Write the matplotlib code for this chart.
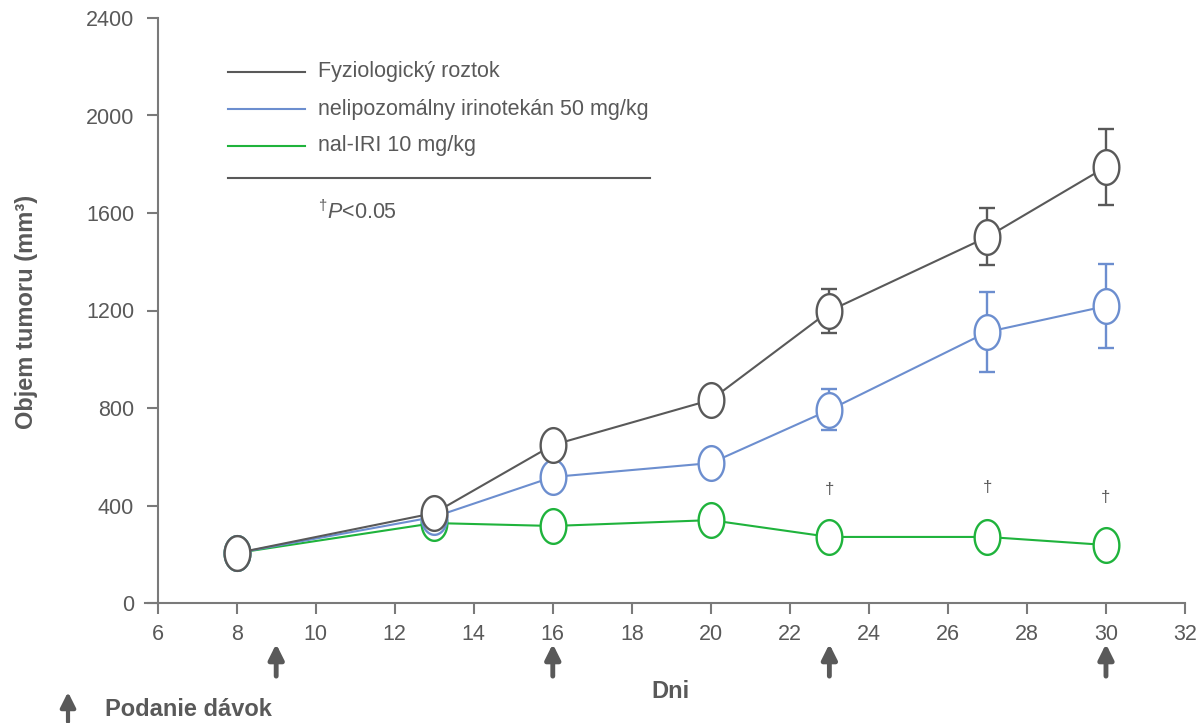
import matplotlib
matplotlib.use("Agg")
import matplotlib.pyplot as plt
import numpy as np
from matplotlib.path import Path
from matplotlib.lines import Line2D
from matplotlib.patches import FancyArrowPatch

plt.rcParams['font.family'] = ['Liberation Sans', 'DejaVu Sans']
plt.rcParams['mathtext.fontset'] = 'custom'
plt.rcParams['mathtext.rm'] = 'Liberation Sans'
plt.rcParams['mathtext.it'] = 'Liberation Sans:italic'
plt.rcParams['mathtext.bf'] = 'Liberation Sans:bold'

days = [8, 13, 16, 20, 23, 27, 30]
saline = [205, 369, 648, 833, 1198, 1502, 1789]
saline_err = [0, 0, 0, 0, 90, 117, 156]
nonlipo = [205, 353, 517, 574, 792, 1112, 1218]
nonlipo_err = [0, 0, 0, 0, 84, 164, 172]
nalIRI = [205, 328, 316, 340, 271, 271, 238]
nalIRI_err = [0, 0, 0, 0, 0, 0, 0]
dose_days = [9, 16, 23, 30]
sig_days = [23, 27, 30]
sig_y = [464, 472, 431]

labels = ['Fyziologický roztok', 'nelipozomálny irinotekán 50 mg/kg', 'nal-IRI 10 mg/kg']
GRAY = '#595959'
BLUE = '#6C8ECF'
GREEN = '#1FB33C'
AXC = '#7a7a7a'
TXT = '#595959'

W, H = 1202, 723
fig = plt.figure(figsize=(W / 100, H / 100), dpi=100)

def fx(px):
    return px / W

def fy(py):
    return 1 - py / H

ax = fig.add_axes([fx(145), fy(603), fx(1185) - fx(145), fy(18) - fy(603)])
ax.set_xlim(5.68, 32)
ax.set_ylim(0, 2400)

# elliptical marker
t = np.linspace(0, 2 * np.pi, 60)
verts = np.column_stack([0.74 * np.cos(t), np.sin(t)])
ell = Path(verts, closed=True)

series = [(nalIRI, nalIRI_err, GREEN), (nonlipo, nonlipo_err, BLUE), (saline, saline_err, GRAY)]
for z, (vals, err, col) in enumerate(series):
    ax.errorbar(days, vals, yerr=err, color=col, lw=1.5, elinewidth=1.7, capsize=6,
                capthick=1.7, marker=ell, markersize=25, markerfacecolor='white',
                markeredgecolor=col, markeredgewidth=1.7, zorder=3 + z, clip_on=False)

for d, y in zip(sig_days, sig_y):
    ax.text(d, y, '†', ha='center', va='center', fontsize=12, color=TXT)

# spines
for s in ['top', 'right']:
    ax.spines[s].set_visible(False)
ax.spines['left'].set_position(('data', 6))
for s in ['left', 'bottom']:
    ax.spines[s].set_color(AXC)
    ax.spines[s].set_linewidth(1.5)

ax.set_xticks(np.arange(6, 33, 2))
ax.set_yticks(np.arange(0, 2401, 400))
ax.tick_params(axis='both', colors=AXC, width=1.5, length=8, labelsize=15.5, labelcolor=TXT)
ax.tick_params(axis='x', pad=7)
ax.tick_params(axis='y', pad=9)

fig.text(fx(27), fy(312), 'Objem tumoru (mm³)', rotation=90, ha='center', va='center',
         fontsize=17, fontweight='bold', color=TXT)
fig.text(fx(670), fy(692), 'Dni', ha='center', va='center', fontsize=17, fontweight='bold', color=TXT)

# dose arrows
for d in dose_days:
    ax.annotate('', xy=(d, -0.07), xytext=(d, -0.125), xycoords=('data', 'axes fraction'),
                textcoords=('data', 'axes fraction'), annotation_clip=False,
                arrowprops=dict(arrowstyle='-|>,head_width=0.45,head_length=0.9', lw=3.5,
                                color=GRAY, shrinkA=0, shrinkB=0))
fig.add_artist(FancyArrowPatch((fx(68), fy(722)), (fx(68), fy(692)),
               transform=fig.transFigure, arrowstyle='-|>,head_width=0.45,head_length=0.9',
               lw=3, color=GRAY, shrinkA=0, shrinkB=0, mutation_scale=10))
fig.text(fx(105), fy(710), 'Podanie dávok', ha='left', va='center', fontsize=17,
         fontweight='bold', color=TXT)

# legend
cols = [GRAY, BLUE, GREEN]
ys = [72, 109, 146]
for lab, col, yy in zip(labels, cols, ys):
    fig.add_artist(Line2D([fx(228), fx(305)], [fy(yy), fy(yy)], color=col, lw=1.5,
                          transform=fig.transFigure))
    fig.text(fx(318), fy(yy), lab, ha='left', va='center', fontsize=15.5, color=TXT)
fig.add_artist(Line2D([fx(228), fx(650)], [fy(178), fy(178)], color=GRAY, lw=1.5,
                      transform=fig.transFigure))
fig.text(fx(318), fy(212), r'$^{\dagger}\mathit{P}$<0.05', ha='left', va='center', fontsize=15.5, color=TXT)

fig.savefig('out.png', dpi=100)
